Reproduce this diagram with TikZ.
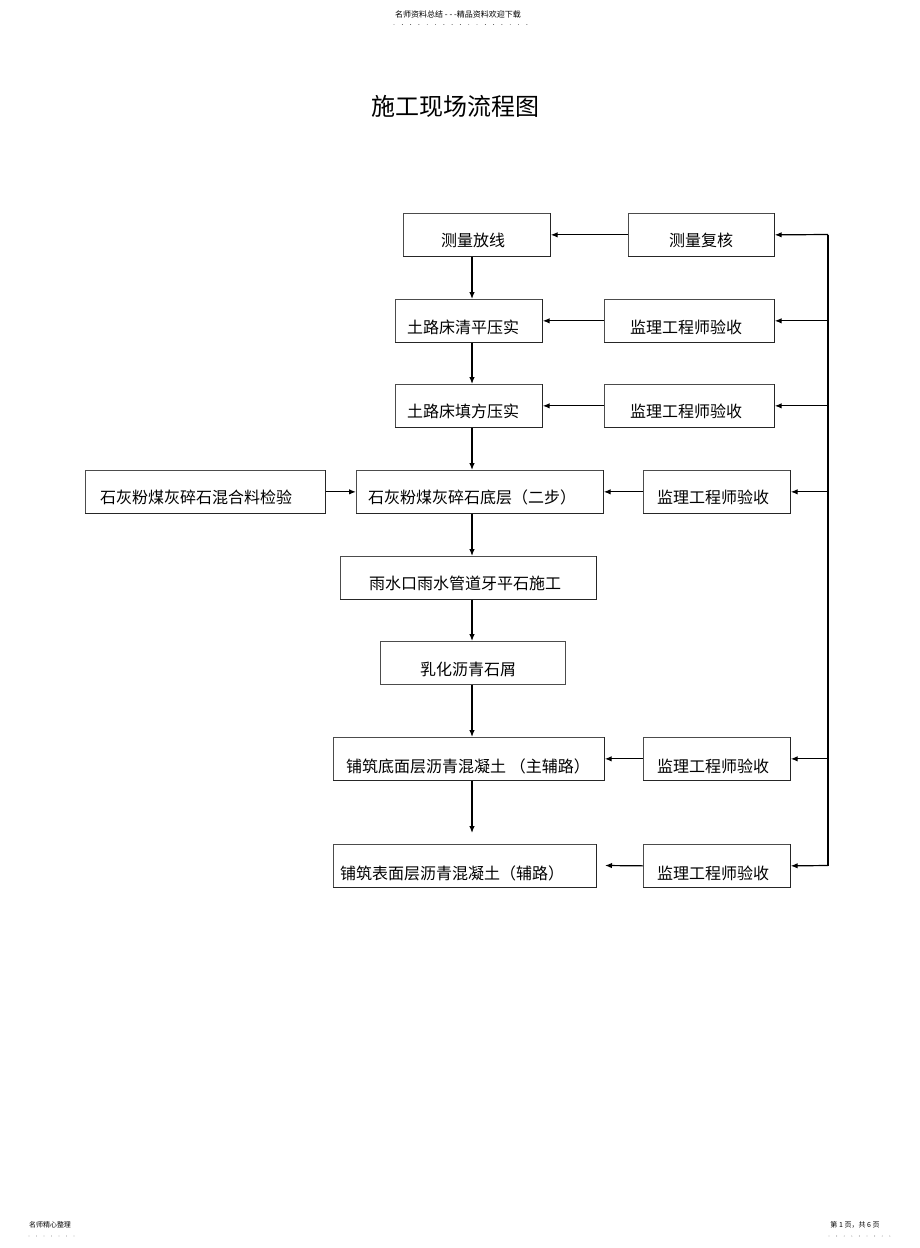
\documentclass[tikz,border=0pt]{standalone}
\usepackage{fontspec}
\setmainfont{Noto Sans CJK SC}
\usetikzlibrary{arrows.meta}
\begin{document}
\begin{tikzpicture}[x=1pt,y=-1pt,
  box/.style={draw=black!70, line width=0.7pt, inner sep=0pt, anchor=north west, minimum height=43pt},
  lbl/.style={font=\fontsize{16}{16}\selectfont, inner sep=0pt},
  arr/.style={line width=1.2pt, -{Latex[length=7pt,width=5.5pt]}},
  shade/.style={line width=1.4pt, black!85},
  ]
\fill[white] (0,0) rectangle (920,1248);
\path[use as bounding box] (0,0) rectangle (920,1248);

% header / footer
\node[inner sep=0pt, font=\fontsize{8}{8}\selectfont] (hd) at (458,14) {名师资料总结 - - -精品资料欢迎下载};
\foreach \i in {0,...,16} \fill[black!70] (394+\i*8.3,24.5) circle (0.45pt);
\node[inner sep=0pt, font=\fontsize{7}{7}\selectfont] (fl) at (50,1225) {名师精心整理};
\foreach \i in {0,...,6} \fill[black!70] (29+\i*7.5,1236) circle (0.45pt);
\node[inner sep=0pt, font=\fontsize{7}{7}\selectfont] (fr) at (855,1225) {第 1 页，共 6 页};
\foreach \i in {0,...,8} \fill[black!70] (829+\i*7.6,1236) circle (0.45pt);

% title
\node[inner sep=0pt, font=\fontsize{24}{24}\selectfont] (title) at (455,106) {施工现场流程图};

% boxes
\node[box, minimum width=147pt] (a1) at (403,213) {};
\node[box, minimum width=146pt] (b1) at (628,213) {};
\node[box, minimum width=147pt] (a2) at (395,299) {};
\node[box, minimum width=170pt] (b2) at (604,299) {};
\node[box, minimum width=147pt] (a3) at (395,384) {};
\node[box, minimum width=170pt] (b3) at (604,384) {};
\node[box, minimum width=240pt] (c4) at (85,470) {};
\node[box, minimum width=247pt] (a4) at (356,470) {};
\node[box, minimum width=147pt] (b4) at (643,470) {};
\node[box, minimum width=256pt] (a5) at (340,556) {};
\node[box, minimum width=185pt] (a6) at (380,641) {};
\node[box, minimum width=271pt] (a7) at (333,737) {};
\node[box, minimum width=147pt] (b7) at (643,737) {};
\node[box, minimum width=263pt] (a8) at (333,844) {};
\node[box, minimum width=147pt] (b8) at (643,844) {};

\foreach \n in {a1,b1,a2,b2,a3,b3,c4,a4,b4,a5,a7,b7,a8,b8}
  \draw[shade] (\n.north east) -- (\n.south east) -- (\n.south west);

% labels
\node[lbl] (t1) at (473,240) {测量放线};
\node[lbl] (s1) at (701,240) {测量复核};
\node[lbl] (t2) at (463,327) {土路床清平压实};
\node[lbl] (s2) at (686,327) {监理工程师验收};
\node[lbl] (t3) at (463,411) {土路床填方压实};
\node[lbl] (s3) at (686,411) {监理工程师验收};
\node[lbl] (u4) at (196,497) {石灰粉煤灰碎石混合料检验};
\node[lbl] (t4) at (472,497) {石灰粉煤灰碎石底层（二步）};
\node[lbl] (s4) at (713,497) {监理工程师验收};
\node[lbl] (t5) at (465,583) {雨水口雨水管道牙平石施工};
\node[lbl] (t6) at (468,669) {乳化沥青石屑};
\node[lbl] (t7) at (468,766) {铺筑底面层沥青混凝土 （主辅路）};
\node[lbl] (s7) at (713,766) {监理工程师验收};
\node[lbl] (t8) at (452,873) {铺筑表面层沥青混凝土（辅路）};
\node[lbl] (s8) at (713,873) {监理工程师验收};

% main vertical flow
\coordinate (vx) at (472,0);
\coordinate (e1) at (472,833);
\coordinate (e2) at (605,865.5);
\draw[arr] (a1.south -| vx) -- (a2.north -| vx);
\draw[arr] (a2.south -| vx) -- (a3.north -| vx);
\draw[arr] (a3.south -| vx) -- (a4.north -| vx);
\draw[arr] (a4.south -| vx) -- (a5.north -| vx);
\draw[arr] (a5.south -| vx) -- (a6.north -| vx);
\draw[arr] (a6.south -| vx) -- (a7.north -| vx);
\draw[arr] (a7.south -| vx) -- (e1);

% side arrows
\draw[arr] (b1.west) -- (b1.west -| a1.east);
\draw[arr] (b2.west) -- (b2.west -| a2.east);
\draw[arr] (b3.west) -- (b3.west -| a3.east);
\draw[arr] (c4.east) -- (a4.west);
\draw[arr] (b4.west) -- (a4.east);
\draw[arr] (b7.west) -- (a7.east);
\draw[arr] (b8.west) -- (e2);

% right bus
\coordinate (bt) at (828,234.5);
\coordinate (bb) at (828,865.5);
\draw[line width=1.2pt] (bt) -- (bb);
\draw[arr] (bt) -- (b1.east);
\draw[arr] (b2.east -| bt) -- (b2.east);
\draw[arr] (b3.east -| bt) -- (b3.east);
\draw[arr] (b4.east -| bt) -- (b4.east);
\draw[arr] (b7.east -| bt) -- (b7.east);
\draw[arr] (bb) -- (b8.east);
\end{tikzpicture}
\end{document}
